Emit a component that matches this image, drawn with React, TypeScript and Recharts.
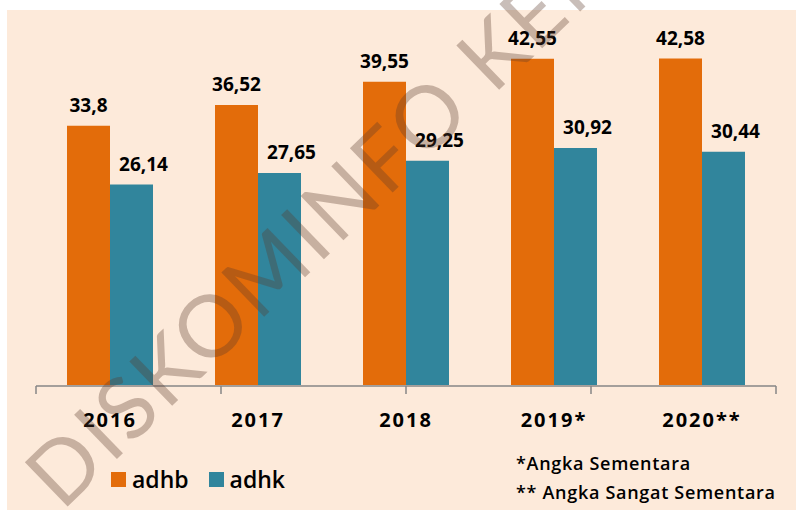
import React from 'react';
import { BarChart, Bar, XAxis, YAxis, LabelList } from 'recharts';

const years = ['2016', '2017', '2018', '2019*', '2020**'];
const adhb = [33.8, 36.52, 39.55, 42.55, 42.58];
const adhk = [26.14, 27.65, 29.25, 30.92, 30.44];
const seriesNames = ['adhb', 'adhk'];
const seriesColors = ['#E36C0A', '#31859C'];
const footnotes = ['*Angka Sementara', '** Angka Sangat Sementara'];
const watermark = 'DISKOMINFO KENDARI';
const frameTicks = [0, 1, 2, 3, 4, 5];

const data = years.map((y, i) => ({ year: y, adhb: adhb[i], adhk: adhk[i] }));

const FONT = '"Open Sans", "DejaVu Sans", sans-serif';

const fmt = (v: number) => String(v).replace('.', ',');

const makeLabel = (dx: number) => (props: any) => {
  const { x, y, width, value } = props;
  return (
    <text
      x={Number(x) + Number(width) / 2 + dx}
      y={Number(y) - 14}
      textAnchor="middle"
      fontFamily={FONT}
      fontWeight={700}
      fontSize={19}
      fill="#000"
    >
      {fmt(value)}
    </text>
  );
};

const YearTick = (props: any) => {
  const { x, y, payload } = props;
  return (
    <text
      x={x}
      y={Number(y) + 42}
      textAnchor="middle"
      fontFamily={FONT}
      fontWeight={700}
      fontSize={20}
      letterSpacing={2}
      fill="#000"
    >
      {payload.value}
    </text>
  );
};

const EmptyTick = () => <g />;

export default function App() {
  return (
    <div
      style={{
        position: 'absolute',
        left: 0,
        top: 0,
        width: 796,
        height: 511,
        background: '#ffffff',
        fontFamily: FONT,
        overflow: 'hidden',
      }}
    >
      <div
        style={{
          position: 'absolute',
          left: 7,
          top: 10,
          width: 789,
          height: 500,
          background: '#FDEADA',
        }}
      />
      <div style={{ position: 'absolute', left: 0, top: 0 }}>
        <BarChart
          width={796}
          height={511}
          data={data}
          margin={{ top: 40, right: 20, left: 36, bottom: 124 }}
          barGap={0}
          barCategoryGap={31}
        >
          <YAxis hide width={0} domain={[0, 45]} />
          <XAxis
            xAxisId="frame"
            type="number"
            domain={[0, 5]}
            ticks={frameTicks}
            interval={0}
            height={1}
            tick={<EmptyTick />}
            tickSize={8}
            stroke="#868686"
            axisLine={{ stroke: '#868686', strokeWidth: 1.5 }}
            tickLine={{ stroke: '#868686', strokeWidth: 1.5 }}
          />
          <XAxis
            dataKey="year"
            height={1}
            axisLine={false}
            tickLine={false}
            tickSize={0}
            tickMargin={0}
            tick={<YearTick />}
            interval={0}
          />
          <Bar dataKey="adhb" fill={seriesColors[0]} isAnimationActive={false}>
            <LabelList dataKey="adhb" content={makeLabel(0)} />
          </Bar>
          <Bar dataKey="adhk" fill={seriesColors[1]} isAnimationActive={false}>
            <LabelList dataKey="adhk" content={makeLabel(12)} />
          </Bar>
        </BarChart>
      </div>
      {/* legend */}
      <div
        style={{
          position: 'absolute',
          left: 111,
          top: 463,
          display: 'flex',
          alignItems: 'center',
          fontSize: 23,
          fontWeight: 600,
          color: '#000',
        }}
      >
        {seriesNames.map((n, i) => (
          <div key={n} style={{ display: 'flex', alignItems: 'center', marginRight: 20 }}>
            <div style={{ width: 15, height: 15, background: seriesColors[i], marginRight: 6 }} />
            <span>{n}</span>
          </div>
        ))}
      </div>
      {/* footnotes */}
      <div
        style={{
          position: 'absolute',
          left: 516,
          top: 449,
          fontSize: 18,
          fontWeight: 600,
          letterSpacing: 0.7,
          lineHeight: '29px',
          color: '#000',
          whiteSpace: 'nowrap',
        }}
      >
        {footnotes.map((f) => (
          <div key={f}>{f}</div>
        ))}
      </div>
      {/* watermark */}
      <svg
        width={796}
        height={511}
        style={{ position: 'absolute', left: 0, top: 0, pointerEvents: 'none' }}
      >
        <text
          x={0}
          y={0}
          transform="translate(62,512) rotate(-44)"
          fontFamily='"Lato", "Open Sans", sans-serif'
          fontWeight={400}
          fontSize={86}
          fill="#5a3a2a"
          fillOpacity={0.33}
          letterSpacing={3}
        >
          {watermark}
        </text>
      </svg>
    </div>
  );
}
